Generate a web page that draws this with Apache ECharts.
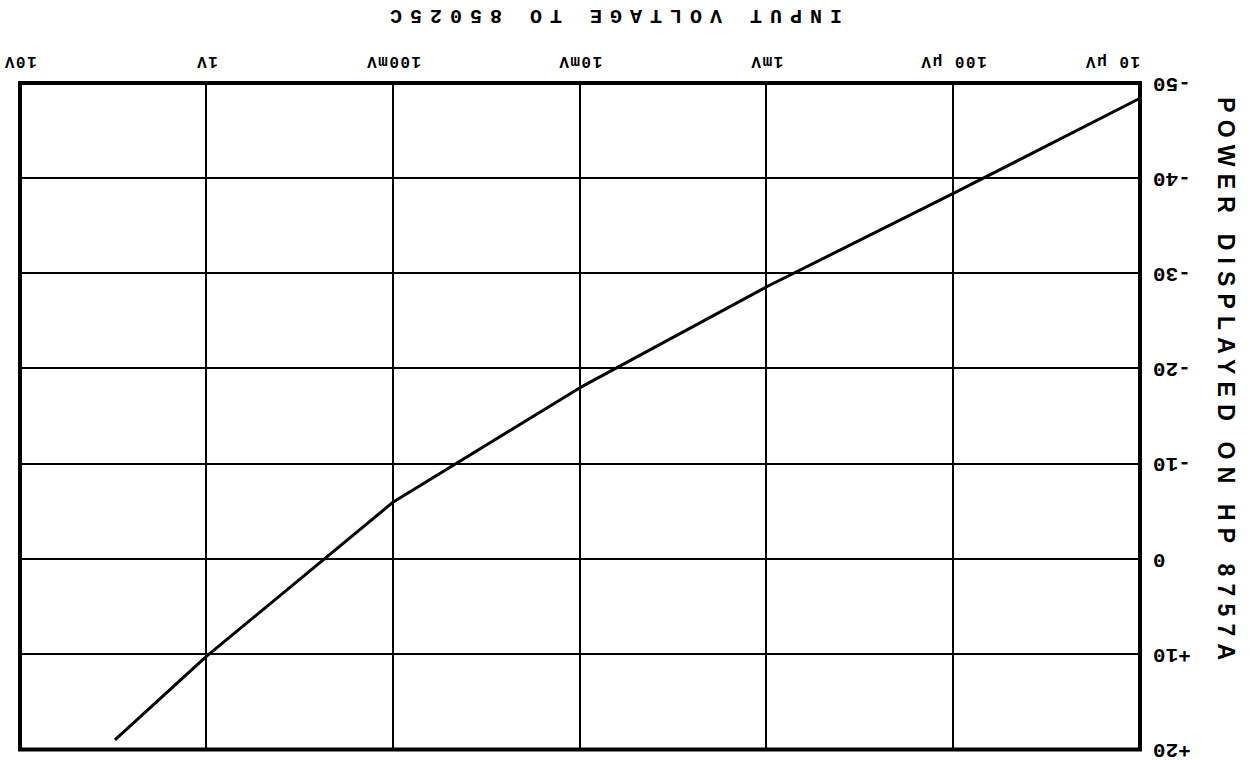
<!DOCTYPE html>
<html>
<head>
<meta charset="utf-8">
<script src="https://cdn.jsdelivr.net/npm/echarts@6/dist/echarts.min.js"></script>
<style>
  html, body { margin: 0; padding: 0; background: #fff; }
  /* the scan is upside down, so the whole chart is turned over */
  #chart { width: 1255px; height: 760px; transform: rotate(180deg); }
</style>
</head>
<body>
<div id="chart"></div>
<script>
// input voltage (log), tick labels per decade
const xTickExp = [-5, -4, -3, -2, -1, 0, 1];
const xTickLabels = ['10 µV', '100 µV', '1mV', '10mV', '100mV', '1V', '10V'];
// power displayed (dB)
const volts = [3.1, 1, 0.1, 0.01, 0.001, 0.0001, 0.00001];
const powerDb = [19.0, 10.2, -6.0, -18.0, -28.6, -38.4, -48.4];
const yTicks = [-50, -40, -30, -20, -10, 0, 10, 20];
const yTickLabels = ['-50', '-40', '-30', '-20', '-10', '0', '+10', '+20'];

const xTitle = 'INPUT VOLTAGE TO 85025C';
const yTitle = 'POWER DISPLAYED ON HP 8757A';

const chart = echarts.init(document.getElementById('chart'), null, { renderer: 'svg' });

const option = {
    animation: false,
    backgroundColor: '#fff',
    grid: {
        left: 115, top: 10, width: 1120, height: 672,
        show: true, borderColor: '#000', borderWidth: 4
    },
    xAxis: {
        type: 'log', logBase: 10, min: 0.00001, max: 10,
        axisLine: { show: false },
        axisTick: { show: false },
        splitLine: { lineStyle: { color: '#000', width: 2 } },
        axisLabel: {
            color: '#000', fontFamily: 'Liberation Mono', fontWeight: 'bold', fontSize: 16, margin: 14,
            alignMinLabel: 'left',
            formatter: v => xTickLabels[xTickExp.indexOf(Math.round(Math.log10(v)))]
        },
        name: xTitle,
        nameLocation: 'middle',
        nameGap: 58,
        nameTextStyle: {
            color: '#000', fontFamily: 'Liberation Mono', fontWeight: 'bold', fontSize: 20,
            padding: [0, 64, 0, 0]
        }
    },
    yAxis: {
        type: 'value', min: -50, max: 20, interval: 10,
        axisLine: { show: false },
        axisTick: { show: false },
        splitLine: { lineStyle: { color: '#000', width: 2 } },
        axisLabel: {
            color: '#000', fontFamily: 'Liberation Mono', fontWeight: 'bold', fontSize: 21, margin: 13,
            formatter: v => yTickLabels[yTicks.indexOf(v)]
        },
        name: yTitle,
        nameLocation: 'middle',
        nameRotate: 90,
        nameGap: 74,
        nameTextStyle: {
            color: '#000', fontFamily: 'Liberation Sans', fontWeight: 'bold', fontSize: 23,
            padding: [0, 68, 0, 0]
        }
    },
    series: [{
        type: 'line',
        data: volts.map((v, i) => [v, powerDb[i]]),
        showSymbol: false,
        lineStyle: { color: '#000', width: 3 }
    }]
};
chart.setOption(option);

// lettering on the original is widely spaced
function spaceLetters() {
    document.querySelectorAll('#chart text').forEach(t => {
        const s = t.textContent;
        if (s === xTitle) t.style.letterSpacing = '8px';
        else if (s === yTitle) t.style.letterSpacing = '7.2px';
        else if (xTickLabels.includes(s)) t.style.letterSpacing = '1.5px';
    });
}
chart.on('finished', spaceLetters);
setTimeout(spaceLetters, 50);
</script>
</body>
</html>
